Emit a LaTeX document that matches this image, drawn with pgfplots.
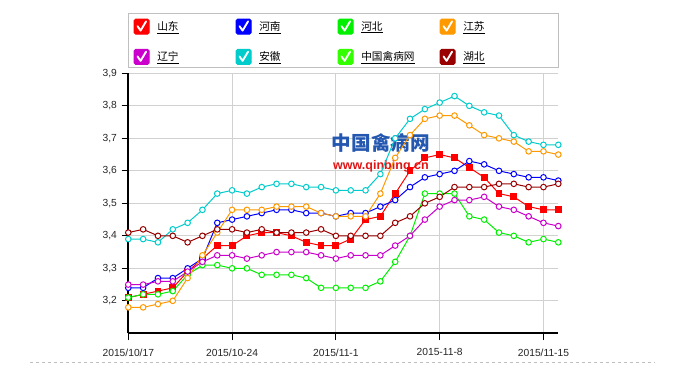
\documentclass[border=0pt]{standalone}
\usepackage{pgfplots}
\usepackage{pgfplotstable}
\pgfplotsset{compat=1.18}
\usepackage{fontspec}
\setmainfont{Liberation Sans}
\newfontfamily\cjk{Noto Sans CJK SC}
\definecolor{cRed}{HTML}{FF0000}
\definecolor{cBlue}{HTML}{0000FF}
\definecolor{cGreen}{HTML}{00F000}
\definecolor{cOrange}{HTML}{FF9900}
\definecolor{cMag}{HTML}{CC00CC}
\definecolor{cCyan}{HTML}{00CCCC}
\definecolor{cLime}{HTML}{33FF00}
\definecolor{cBrown}{HTML}{990000}
\definecolor{wmBlue}{HTML}{2457B0}
\definecolor{wmRed}{HTML}{E01515}
\pgfplotstableread{
i sd hn hb js ln ah hub
0 3.21 3.24 3.21 3.18 3.25 3.39 3.41
1 3.22 3.24 3.22 3.18 3.25 3.39 3.42
2 3.23 3.27 3.22 3.19 3.26 3.38 3.40
3 3.24 3.27 3.23 3.20 3.26 3.42 3.40
4 3.29 3.30 3.28 3.27 3.29 3.44 3.38
5 3.33 3.33 3.31 3.34 3.32 3.48 3.40
6 3.37 3.44 3.31 3.41 3.34 3.53 3.42
7 3.37 3.45 3.30 3.48 3.34 3.54 3.42
8 3.40 3.46 3.30 3.48 3.33 3.53 3.41
9 3.41 3.47 3.28 3.48 3.34 3.55 3.42
10 3.41 3.48 3.28 3.49 3.35 3.56 3.41
11 3.40 3.48 3.28 3.49 3.35 3.56 3.41
12 3.38 3.47 3.27 3.49 3.35 3.55 3.41
13 3.37 3.47 3.24 3.47 3.34 3.55 3.42
14 3.37 3.46 3.24 3.46 3.33 3.54 3.40
15 3.39 3.47 3.24 3.46 3.34 3.54 3.40
16 3.45 3.47 3.24 3.46 3.34 3.54 3.40
17 3.46 3.49 3.26 3.53 3.34 3.59 3.40
18 3.53 3.51 3.32 3.64 3.37 3.70 3.44
19 3.60 3.55 3.40 3.71 3.40 3.76 3.46
20 3.64 3.58 3.53 3.76 3.45 3.79 3.50
21 3.65 3.59 3.53 3.77 3.49 3.81 3.52
22 3.64 3.60 3.53 3.77 3.51 3.83 3.55
23 3.61 3.63 3.46 3.74 3.51 3.80 3.55
24 3.58 3.62 3.45 3.71 3.52 3.78 3.55
25 3.53 3.60 3.41 3.70 3.49 3.77 3.56
26 3.52 3.59 3.40 3.69 3.48 3.71 3.56
27 3.49 3.58 3.38 3.66 3.46 3.69 3.55
28 3.48 3.58 3.39 3.66 3.44 3.68 3.55
29 3.48 3.57 3.38 3.65 3.43 3.68 3.56
}\datatable
\begin{document}
\begin{tikzpicture}
\path[fill=white] (0pt,0pt) rectangle (511.5pt,282pt);
\draw[black!25, line width=0.6pt, dash pattern=on 2.25pt off 2.25pt] (22.5pt,10.5pt) -- (491pt,10.5pt);
\draw[black!25, line width=0.75pt] (96.225pt,272pt) rectangle (418.725pt,231.5pt);
\begin{axis}[
  at={(96.225pt,32pt)}, anchor=south west,
  scale only axis, width=322.5pt, height=195pt,
  xmin=0, xmax=29, ymin=3.1, ymax=3.9,
  axis lines*=left,
  axis line style={line width=1.5pt, black, -},
  xtick={0,7,14,21,28},
  xticklabels={2015/10/17,2015/10-24,2015/11-1,2015-11-8,2015/11-15},
  ytick={3.2,3.3,3.4,3.5,3.6,3.7,3.8,3.9},
  grid=major,
  major grid style={line width=0.6pt, color=black!18},
  tick align=outside,
  major tick length=5pt,
  tick style={black, line width=0.8pt},
  ticklabel style={font=\fontsize{7.7pt}{9pt}\selectfont, text=black!85},
  x tick label style={yshift=-3pt},
  y tick label style={/pgf/number format/use comma, /pgf/number format/fixed, /pgf/number format/fixed zerofill, /pgf/number format/precision=1, /pgf/number format/assume math mode=true},
  legend columns=4,
  legend style={draw=none, fill=none, at={(0,1.2308)}, anchor=north west,
    inner xsep=3.75pt, inner ysep=3.75pt, row sep=10.7pt,
    /tikz/every odd column/.append style={column sep=5.8pt},
    font=\cjk\fontsize{8pt}{9pt}\selectfont,
    nodes={inner sep=0pt, text width=58.7pt, align=left, anchor=west}},
  legend image code/.code={
    \fill[#1, rounded corners=1.2pt] (0pt,-5.625pt) rectangle (11.25pt,5.625pt);
    \draw[white, line width=1.4pt, line cap=round, line join=round] (2.6pt,0.3pt) -- (4.9pt,-3pt) -- (9pt,3.9pt);
  },
  every axis plot/.append style={line width=0.75pt},
]
\node[text=wmBlue, font=\cjk\bfseries\fontsize{14.7pt}{16pt}\selectfont] at (axis cs:17.04,3.686) {中国禽病网};
\node[text=wmRed, font=\bfseries\fontsize{9.4pt}{11pt}\selectfont] at (axis cs:17.04,3.615) {www.qinbing.cn};
\addplot[color=cRed, mark=square*, mark size=2.2pt] table[x=i, y=sd] {\datatable};
\addlegendentry{\underline{山东}}
\addplot[color=cBlue, mark=*, mark size=2.1pt, mark options={fill=white}] table[x=i, y=hn] {\datatable};
\addlegendentry{\underline{河南}}
\addplot[color=cGreen, mark=*, mark size=2.1pt, mark options={fill=white}] table[x=i, y=hb] {\datatable};
\addlegendentry{\underline{河北}}
\addplot[color=cOrange, mark=*, mark size=2.1pt, mark options={fill=white}] table[x=i, y=js] {\datatable};
\addlegendentry{\underline{江苏}}
\addplot[color=cMag, mark=*, mark size=2.1pt, mark options={fill=white}] table[x=i, y=ln] {\datatable};
\addlegendentry{\underline{辽宁}}
\addplot[color=cCyan, mark=*, mark size=2.1pt, mark options={fill=white}] table[x=i, y=ah] {\datatable};
\addlegendentry{\underline{安徽}}
\addlegendimage{color=cLime}
\addlegendentry{\underline{中国禽病网}}
\addplot[color=cBrown, mark=*, mark size=2.1pt, mark options={fill=white}] table[x=i, y=hub] {\datatable};
\addlegendentry{\underline{湖北}}
\end{axis}
\end{tikzpicture}
\end{document}
